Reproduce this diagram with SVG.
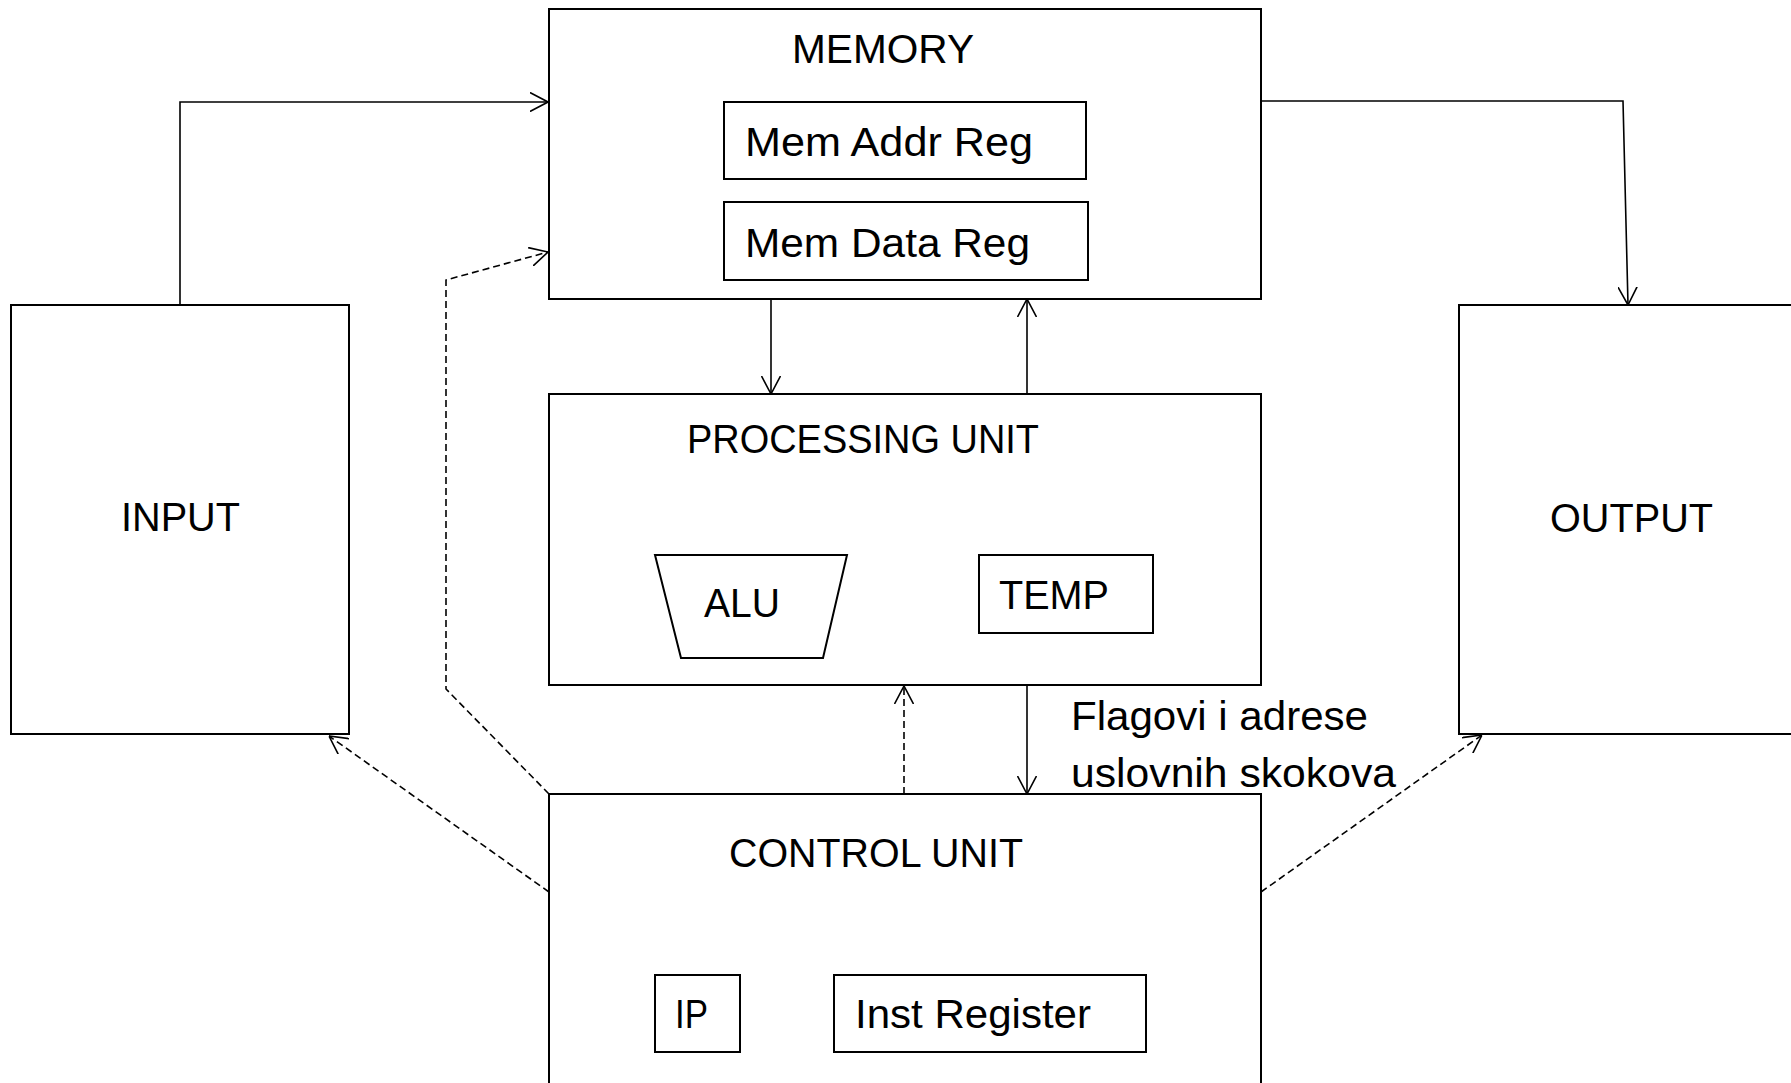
<svg xmlns="http://www.w3.org/2000/svg" width="1791" height="1083" viewBox="0 0 1791 1083">
<style>
.box{fill:#fff;stroke:#000;stroke-width:2}
.inner{fill:#fff;stroke:#000;stroke-width:2}
.t{font-family:"Liberation Sans",Arial,sans-serif;font-size:41px;fill:#000}
.c{fill:none;stroke:#000;stroke-width:1.6}
.d{fill:none;stroke:#000;stroke-width:1.6;stroke-dasharray:7 4}
</style>
<defs>
<marker id="arr" viewBox="0 0 18 20" refX="18" refY="10" markerWidth="18" markerHeight="20" markerUnits="userSpaceOnUse" orient="auto">
<path d="M0,0.5 L18,10 L0,19.5" fill="none" stroke="#000" stroke-width="1.6"/>
</marker>
</defs>
<rect width="1791" height="1083" fill="#fff"/>
<g id="memory">
<rect class="box" x="549" y="9" width="712" height="290"/>
<text class="t" x="792" y="63" textLength="182" lengthAdjust="spacingAndGlyphs">MEMORY</text>
<rect class="inner" x="724" y="102" width="362" height="77"/>
<text class="t" x="745" y="156" textLength="288" lengthAdjust="spacingAndGlyphs">Mem Addr Reg</text>
<rect class="inner" x="724" y="202" width="364" height="78"/>
<text class="t" x="745" y="257" textLength="285" lengthAdjust="spacingAndGlyphs">Mem Data Reg</text>
</g>
<g id="input">
<rect class="box" x="11" y="305" width="338" height="429"/>
<text class="t" x="121" y="531" textLength="119" lengthAdjust="spacingAndGlyphs">INPUT</text>
</g>
<g id="output">
<rect class="box" x="1459" y="305" width="360" height="429"/>
<text class="t" x="1550" y="532" textLength="163" lengthAdjust="spacingAndGlyphs">OUTPUT</text>
</g>
<g id="processing">
<rect class="box" x="549" y="394" width="712" height="291"/>
<text class="t" x="687" y="453" textLength="352" lengthAdjust="spacingAndGlyphs">PROCESSING UNIT</text>
<polygon class="inner" points="655,555 847,555 823,658 681,658"/>
<text class="t" x="704" y="617" textLength="76" lengthAdjust="spacingAndGlyphs">ALU</text>
<rect class="inner" x="979" y="555" width="174" height="78"/>
<text class="t" x="999" y="609" textLength="110" lengthAdjust="spacingAndGlyphs">TEMP</text>
</g>
<g id="control">
<rect class="box" x="549" y="794" width="712" height="320"/>
<text class="t" x="729" y="867" textLength="294" lengthAdjust="spacingAndGlyphs">CONTROL UNIT</text>
<rect class="inner" x="655" y="975" width="85" height="77"/>
<text class="t" x="675" y="1028" textLength="33" lengthAdjust="spacingAndGlyphs">IP</text>
<rect class="inner" x="834" y="975" width="312" height="77"/>
<text class="t" x="855" y="1028" textLength="236" lengthAdjust="spacingAndGlyphs">Inst Register</text>
</g>
<g id="label">
<text class="t" x="1071" y="730" textLength="297" lengthAdjust="spacingAndGlyphs">Flagovi i adrese</text>
<text class="t" x="1071" y="787" textLength="325" lengthAdjust="spacingAndGlyphs">uslovnih skokova</text>
</g>
<g id="connectors">
<path class="c" d="M180,305 V102 H548" marker-end="url(#arr)"/>
<path class="c" d="M1261,101 H1623 L1628,305" marker-end="url(#arr)"/>
<path class="c" d="M771,299 V394" marker-end="url(#arr)"/>
<path class="c" d="M1027,394 V299" marker-end="url(#arr)"/>
<path class="c" d="M1027,685 V794" marker-end="url(#arr)"/>
<path class="d" d="M904,794 V686" marker-end="url(#arr)"/>
<path class="d" d="M549,892 L329,736" marker-end="url(#arr)"/>
<path class="d" d="M549,794 L446,689 V280 L548,252" marker-end="url(#arr)"/>
<path class="d" d="M1261,892 L1482,735" marker-end="url(#arr)"/>
</g>
</svg>
